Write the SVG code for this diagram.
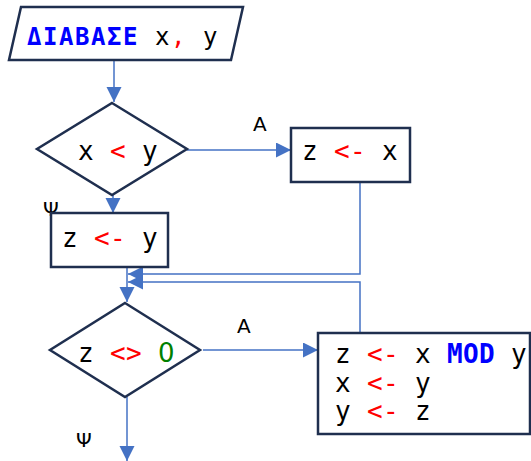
<svg xmlns="http://www.w3.org/2000/svg" width="531" height="461" viewBox="0 0 531 461">
<style>
.node{fill:#fff;stroke:#1F2F4F;stroke-width:2.5}
.c{fill:none;stroke:#4472C4;stroke-width:1.5}
.m{font-family:"DejaVu Sans Mono","Liberation Mono",monospace;font-size:26px;letter-spacing:0.35px;fill:#000}
.lbl{font-family:"DejaVu Sans","Liberation Sans",sans-serif;fill:#000}
.r{fill:#FF0000}
.b{fill:#0000FF;font-weight:bold}
.g{fill:#008000;font-family:"DejaVu Sans",sans-serif}
</style>
<defs>
<marker id="ah" markerUnits="userSpaceOnUse" markerWidth="16" markerHeight="16" refX="15" refY="7.5" orient="auto">
<path d="M0,0 L15,7.5 L0,15 z" fill="#4472C4"/>
</marker>
</defs>
<g id="connectors">
<path class="c" d="M114,61 L114,102" marker-end="url(#ah)"/>
<path class="c" d="M187,150 L291,150" marker-end="url(#ah)"/>
<path class="c" d="M113,195 L113,213" marker-end="url(#ah)"/>
<path class="c" d="M360,182 L360,274 L128,274" marker-end="url(#ah)"/>
<path class="c" d="M127,267 L127,302" marker-end="url(#ah)"/>
<path class="c" d="M360,333 L360,282 L128,282" marker-end="url(#ah)"/>
<path class="c" d="M203,350 L318,350" marker-end="url(#ah)"/>
<path class="c" d="M127,397 L127,461" marker-end="url(#ah)"/>
<text class="lbl" x="253" y="131" font-size="20">Α</text>
<text class="lbl" x="43" y="216" font-size="20">Ψ</text>
<text class="lbl" x="237" y="333" font-size="20">Α</text>
<text class="lbl" x="76" y="447" font-size="20">Ψ</text>
</g>
<g id="read">
<polygon class="node" points="21,7 243,7 231,60 9,60"/>
<text class="m" x="27" y="45" xml:space="preserve" style="font-size:24px;letter-spacing:1.55px"><tspan class="b">ΔΙΑΒΑΣΕ</tspan> x<tspan class="r">,</tspan> y</text>
</g>
<g id="cond1">
<polygon class="node" points="112,103 187,149 112,195 37,149"/>
<text class="m" x="78" y="160" xml:space="preserve">x <tspan class="r">&lt;</tspan> y</text>
</g>
<g id="assignX">
<rect class="node" x="291" y="128" width="119" height="54"/>
<text class="m" x="302" y="160" xml:space="preserve">z <tspan class="r">&lt;-</tspan> x</text>
</g>
<g id="assignY">
<rect class="node" x="51" y="213" width="117" height="54"/>
<text class="m" x="62" y="247" xml:space="preserve">z <tspan class="r">&lt;-</tspan> y</text>
</g>
<g id="cond2">
<polygon class="node" points="125,303 200,350 125,397 50,350"/>
<text class="m" x="78" y="362" xml:space="preserve">z <tspan class="r">&lt;&gt;</tspan> <tspan class="g">0</tspan></text>
</g>
<g id="loopBody">
<rect class="node" x="318" y="333" width="212" height="101"/>
<text class="m" x="335" y="363" xml:space="preserve">z <tspan class="r">&lt;-</tspan> x <tspan class="b">MOD</tspan> y</text>
<text class="m" x="335" y="392" xml:space="preserve">x <tspan class="r">&lt;-</tspan> y</text>
<text class="m" x="335" y="420" xml:space="preserve">y <tspan class="r">&lt;-</tspan> z</text>
</g>
</svg>
